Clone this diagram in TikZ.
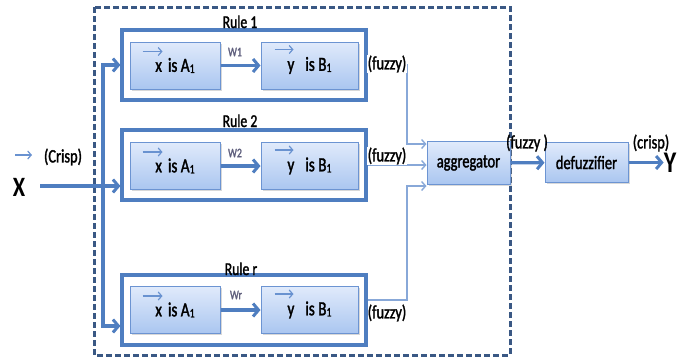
\documentclass[tikz,border=0pt]{standalone}
\usepackage{fontspec}
\setmainfont{Carlito}[FakeStretch=0.76,FakeBold=1.6]
\newfontfamily\bigletter{Carlito Bold}[FakeStretch=0.8]
\usetikzlibrary{arrows.meta,shadows,calc}

\definecolor{frameblue}{RGB}{58,88,132}
\definecolor{ruleblue}{RGB}{79,126,192}
\definecolor{boxtop}{RGB}{224,234,251}
\definecolor{boxbot}{RGB}{170,198,240}
\definecolor{boxedge}{RGB}{108,148,210}
\definecolor{thinblue}{RGB}{136,168,216}
\definecolor{vecblue}{RGB}{105,146,208}
\definecolor{wlabel}{RGB}{95,95,125}

% lowered small index digit
\newcommand\idxone{\raisebox{-0.12ex}{\fontsize{13}{13}\selectfont 1}}

\begin{document}
\begin{tikzpicture}[x=1pt,y=-1pt,
  rulebox/.style={draw=ruleblue,line width=3.2pt,fill=white,inner sep=0pt,
    minimum width=244pt,minimum height=70pt,
    drop shadow={shadow xshift=1pt,shadow yshift=-1pt,opacity=0.2}},
  termbox/.style={draw=boxedge,line width=1pt,top color=boxtop,bottom color=boxbot,
    inner sep=0pt,minimum height=47pt,font=\fontsize{20}{20}\selectfont,
    drop shadow={shadow xshift=1.5pt,shadow yshift=-1.5pt,opacity=0.3}},
  procbox/.style={termbox,font=\fontsize{19}{19}\selectfont},
  fat/.style={draw=ruleblue,line width=3.2pt,
    -{Straight Barb[length=5.5pt,width=13pt,line width=3pt]}},
  conn/.style={draw=thinblue,line width=1.4pt,
    -{Straight Barb[length=4pt,width=9pt,line width=1.4pt]}},
  vecarrow/.style={draw=vecblue,line width=1.2pt,
    -{Straight Barb[length=3.5pt,width=8pt,line width=1.2pt]}},
  rulelabel/.style={anchor=base,inner sep=0pt,font=\fontsize{18}{18}\selectfont},
  wlab/.style={inner sep=0pt,text=wlabel,font=\fontsize{13}{13}\selectfont},
  tag/.style={inner sep=0.5pt,font=\fontsize{19}{19}\selectfont},
  sysframe/.style={draw=frameblue,line width=3pt,dash pattern=on 6pt off 3pt}
]
\useasboundingbox (0,0) rectangle (686,360);

% system boundary
\draw[sysframe] (94,7) rectangle (510,355);

% rule blocks
\node[rulebox] (r1) at (244,65) {};
\node[rulebox] (r2) at (244,165) {};
\node[rulebox] (rr) at (244,310) {};

\node[rulelabel] (r1lab) at (240,28) {Rule 1};
\node[rulelabel] (r2lab) at (240,127) {Rule 2};
\node[rulelabel] (rrlab) at (241,275) {Rule r};

% antecedent / consequent terms
\node[termbox,minimum width=90pt] (a1) at (175,65.5) {x\hspace{6pt}is A\idxone};
\node[termbox,minimum width=97pt] (b1) at (309.5,65.5) {y\hspace{11pt}is B\idxone};
\node[termbox,minimum width=90pt] (a2) at (175,166) {x\hspace{6pt}is A\idxone};
\node[termbox,minimum width=97pt] (b2) at (309.5,166) {y\hspace{11pt}is B\idxone};
\node[termbox,minimum width=90pt] (ar) at (175,310) {x\hspace{6pt}is A\idxone};
\node[termbox,minimum width=97pt] (br) at (309.5,310) {y\hspace{11pt}is B\idxone};

% vector marks over x and y
\foreach \n in {a1,a2,ar}{
  \draw[vecarrow] ($(\n.north west)+(13,10)$) -- ++(20,0);
}
\foreach \n in {b1,b2,br}{
  \draw[vecarrow] ($(\n.north west)+(14,8)$) -- ++(19,0);
}

% implications with weights
\draw[fat] (a1) -- (b1);
\draw[fat] (a2) -- (b2);
\draw[fat] (ar) -- (br);
\node[wlab] (w1) at (235,52) {W1};
\node[wlab] (w2) at (235,153) {W2};
\node[wlab] (wr) at (236,295) {Wr};

% aggregation and defuzzification
\node[procbox,minimum width=83pt,minimum height=43pt] (agg) at (468.5,163) {aggregator};
\node[procbox,minimum width=83pt,minimum height=40pt] (dfz) at (586.5,162.5) {defuzzifier};

\coordinate (bus) at (407,0);
\coordinate (in1) at ($(agg.west)+(0,-19)$);
\coordinate (in2) at (agg.west|-r2.east);
\coordinate (in3) at ($(agg.west)+(0,23)$);
\coordinate (rrout) at ($(rr.east)+(0,-10)$);

\draw[conn] (r1.east) -| (bus|-in1) -- (in1);
\draw[conn] (r2.east) -- (in2);
\draw[conn] (rrout) -| (bus|-in3) -- (in3);

\node[tag,fill=white] (f1) at (387,64) {(fuzzy)};
\node[tag,fill=white] (f2) at (387,156) {(fuzzy)};
\node[tag] (fr) at (387,313) {(fuzzy)};

\draw[fat] (agg) -- (dfz);
\node[tag] (fagg) at (527,143) {(fuzzy )};

% crisp output
\node[inner sep=0pt,font=\bigletter\fontsize{30}{30}\selectfont] (yout) at (670,163) {Y};
\draw[fat] (dfz.east) -- (yout.west|-dfz.east);
\node[tag] (cout) at (651,143) {(crisp)};

% crisp input
\node[inner sep=0pt,font=\bigletter\fontsize{28}{28}\selectfont] (xin) at (19,187) {X};
\draw[vecarrow] (15,155) -- (32,155);
\node[tag] (cin) at (63,157) {(Crisp)};
\coordinate (xstart) at (40,186);
\coordinate (split) at (103,186);
\draw[fat] (xstart) -- (r2.west|-xstart);
\draw[fat] (split) |- (r1.west);
\draw[fat] (split) |- ($(rr.west)+(0,16)$);
\end{tikzpicture}
\end{document}
